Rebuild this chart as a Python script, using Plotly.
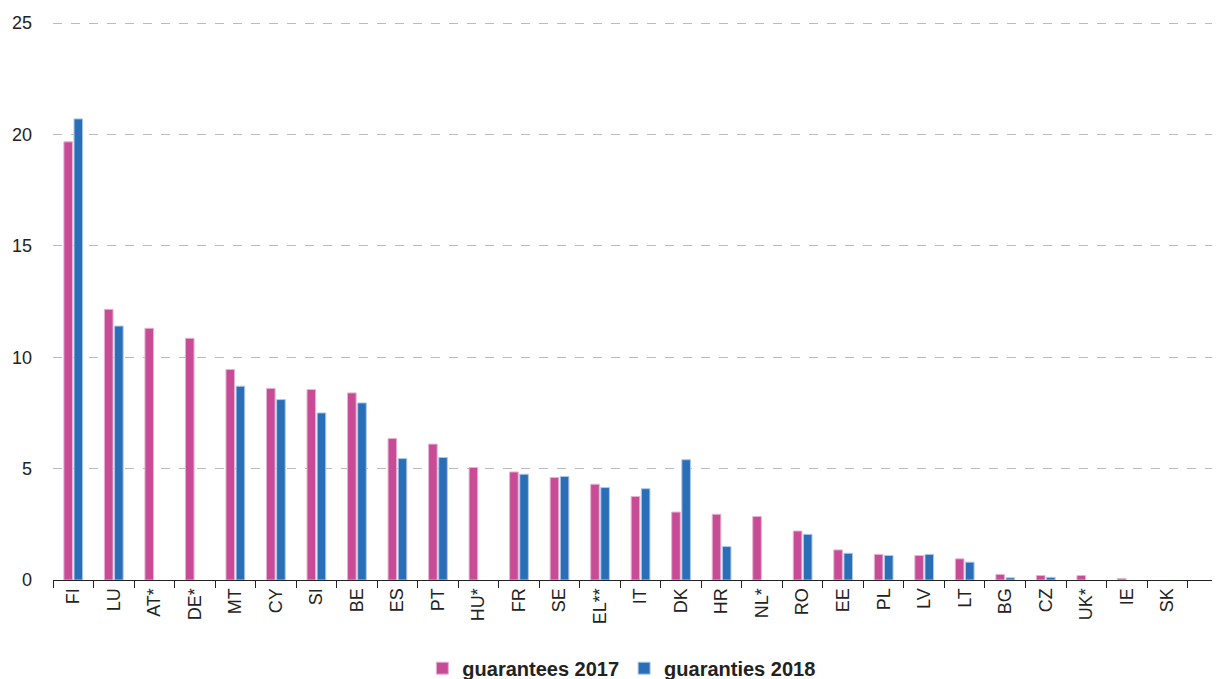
import plotly.graph_objects as go

countries = ["FI", "LU", "AT*", "DE*", "MT", "CY", "SI", "BE", "ES", "PT", "HU*", "FR", "SE", "EL**",
             "IT", "DK", "HR", "NL*", "RO", "EE", "PL", "LV", "LT", "BG", "CZ", "UK*", "IE", "SK"]
g2017 = [19.67, 12.15, 11.3, 10.85, 9.45, 8.6, 8.55, 8.4, 6.35, 6.1, 5.05, 4.85, 4.6, 4.3,
         3.75, 3.05, 2.95, 2.85, 2.2, 1.35, 1.15, 1.1, 0.95, 0.25, 0.2, 0.2, 0.07, None]
g2018 = [20.7, 11.4, None, None, 8.7, 8.1, 7.5, 7.95, 5.45, 5.5, None, 4.75, 4.65, 4.15,
         4.1, 5.4, 1.5, None, 2.05, 1.2, 1.1, 1.15, 0.8, 0.1, 0.12, None, None, None]

fig = go.Figure()
fig.add_bar(x=countries, y=g2017, name="guarantees 2017", marker_color="#C84B96",
            marker_line=dict(color="#E6B3D2", width=1))
fig.add_bar(x=countries, y=g2018, name="guaranties 2018", marker_color="#2A6EB8",
            marker_line=dict(color="#AFC8E8", width=1))

fig.update_layout(
    width=1212, height=671,
    margin=dict(l=45, r=0, t=14, b=99, autoexpand=False),
    paper_bgcolor="white", plot_bgcolor="white",
    barmode="group", bargap=0.5, bargroupgap=0.15,
    font=dict(family="Arial, Liberation Sans, sans-serif", color="#222222"),
    showlegend=True,
    legend=dict(orientation="h", x=0.487, xanchor="center", y=-0.158, yanchor="middle",
                font=dict(size=20, color="#222222", weight="bold"),
                itemwidth=30, traceorder="normal"),
    xaxis=dict(type="category", range=[-0.5, 28.3], tickangle=-90, tickfont=dict(size=18),
               showline=True, linecolor="#222222", linewidth=1, ticks="outside",
               tickson="boundaries", ticklen=7, tickcolor="#222222", showgrid=False,
               automargin=False),
    yaxis=dict(range=[0, 25.05], tickvals=[0, 5, 10, 15, 20, 25], tickfont=dict(size=18),
               showgrid=True, gridcolor="#BBBBBB", griddash="dash", gridwidth=1,
               zeroline=False, ticks="", ticklabelstandoff=20, automargin=False),
)
fig.write_html("out.html")
